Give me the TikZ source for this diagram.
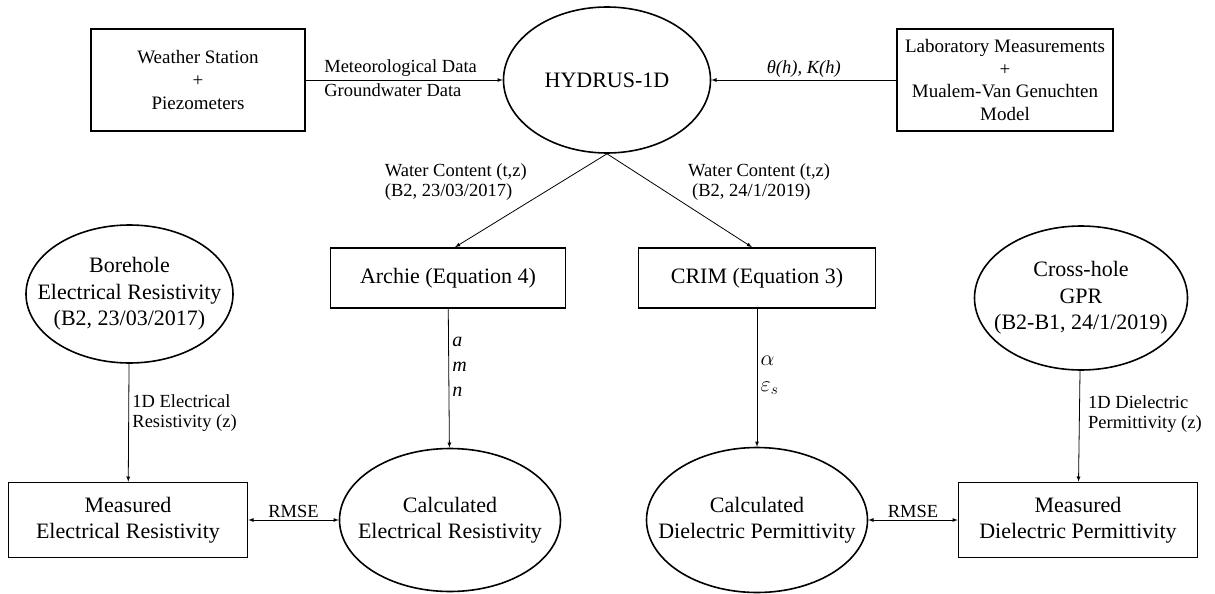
\documentclass[tikz,border=0pt]{standalone}
\usepackage{fix-cm}
\usepackage{fontspec}
\setmainfont{Liberation Serif}
\usetikzlibrary{shapes,arrows}
\tikzstyle{block} = [draw, rectangle, line width=1.6pt, align=center, inner sep=0pt]
\tikzstyle{model} = [draw, ellipse, line width=1.6pt, align=center, inner sep=-50pt]
\tikzstyle{link} = [line width=0.8pt]
\tikzstyle{big} = [font=\fontsize{22}{26.5}\selectfont]
\tikzstyle{small} = [font=\fontsize{19}{22.8}\selectfont]
\tikzstyle{lbl} = [font=\fontsize{18.5}{20.5}\selectfont, align=left]

\begin{document}
\begin{tikzpicture}[x=1pt,y=-1pt,>=latex]
	\useasboundingbox (0,0) rectangle (1215,594);

	% put the inputs and the model on the top row
	\node [block,small,minimum width=214pt,minimum height=102pt] (ws) at (198,80) {Weather Station\\+\\Piezometers};
	\node [model,big,minimum width=207pt,minimum height=146pt] (hydrus) at (607,80) {HYDRUS-1D};
	\node [block,small,minimum width=216pt,minimum height=102pt] (lab) at (1005,80) {Laboratory Measurements\\+\\Mualem-Van Genuchten\\Model};

	% petrophysical relations
	\node [block,big,minimum width=235pt,minimum height=60pt] (archie) at (448,278) {Archie (Equation 4)};
	\node [block,big,minimum width=237pt,minimum height=60pt] (crim) at (757,278) {CRIM (Equation 3)};

	% field measurements
	\node [model,big,minimum width=207pt,minimum height=138pt] (bh) at (129.5,294) {Borehole\\Electrical Resistivity\\(B2, 23/03/2017)};
	\node [model,big,minimum width=213pt,minimum height=144pt] (gpr) at (1081,298) {Cross-hole\\GPR\\(B2-B1, 24/1/2019)};

	% bottom row
	\node [block,big,minimum width=239pt,minimum height=75pt] (mer) at (128,520) {Measured\\Electrical Resistivity};
	\node [model,big,minimum width=221pt,minimum height=143pt] (calcer) at (450,520) {Calculated\\Electrical Resistivity};
	\node [model,big,minimum width=221pt,minimum height=145pt] (calcdp) at (757,520) {Calculated\\Dielectric Permittivity};
	\node [block,big,minimum width=239pt,minimum height=75pt] (mdp) at (1078,520) {Measured\\Dielectric Permittivity};

	% model inputs
	\draw [->,link] (ws) -- node[pos=0.075,anchor=south west,lbl] {Meteorological Data} node[pos=0.075,anchor=north west,lbl] {Groundwater Data} (hydrus);
	\draw [->,link] (lab) -- node[above,inner sep=2pt,lbl] {\textit{θ(h), K(h)}} (hydrus);

	% simulated water content
	\draw [->,link] (hydrus.south) -- node[pos=0.3,anchor=east,xshift=-31pt,lbl] {Water Content (t,z)\\(B2, 23/03/2017)} ([xshift=7pt]archie.north);
	\draw [->,link] (hydrus.south) -- node[pos=0.3,anchor=west,xshift=34pt,lbl] {Water Content (t,z)\\\hspace{4pt}(B2, 24/1/2019)} ([xshift=-5pt]crim.north);

	% parameters
	\draw [->,link] (archie) -- node[right,pos=0.42,lbl,font=\fontsize{20}{25}\selectfont] {\textit{a}\\\textit{m}\\\textit{n}} (calcer);
	\draw [->,link] (crim) -- node[right,pos=0.48,lbl,font=\fontsize{22}{26}\selectfont] {$\alpha$\\$\varepsilon_s$} (calcdp);

	% measured profiles
	\draw [->,link] (bh) -- node[right,pos=0.42,lbl] {1D Electrical\\Resistivity (z)} (mer);
	\draw [->,link] (gpr) -- node[right,pos=0.39,xshift=5pt,lbl] {1D Dielectric\\Permittivity (z)} (mdp);

	% comparison
	\draw [<->,link] (mer) -- node[above,inner sep=2pt,lbl] {RMSE} (calcer);
	\draw [<->,link] (calcdp) -- node[above,inner sep=2pt,lbl] {RMSE} (mdp);

\end{tikzpicture}
\end{document}
